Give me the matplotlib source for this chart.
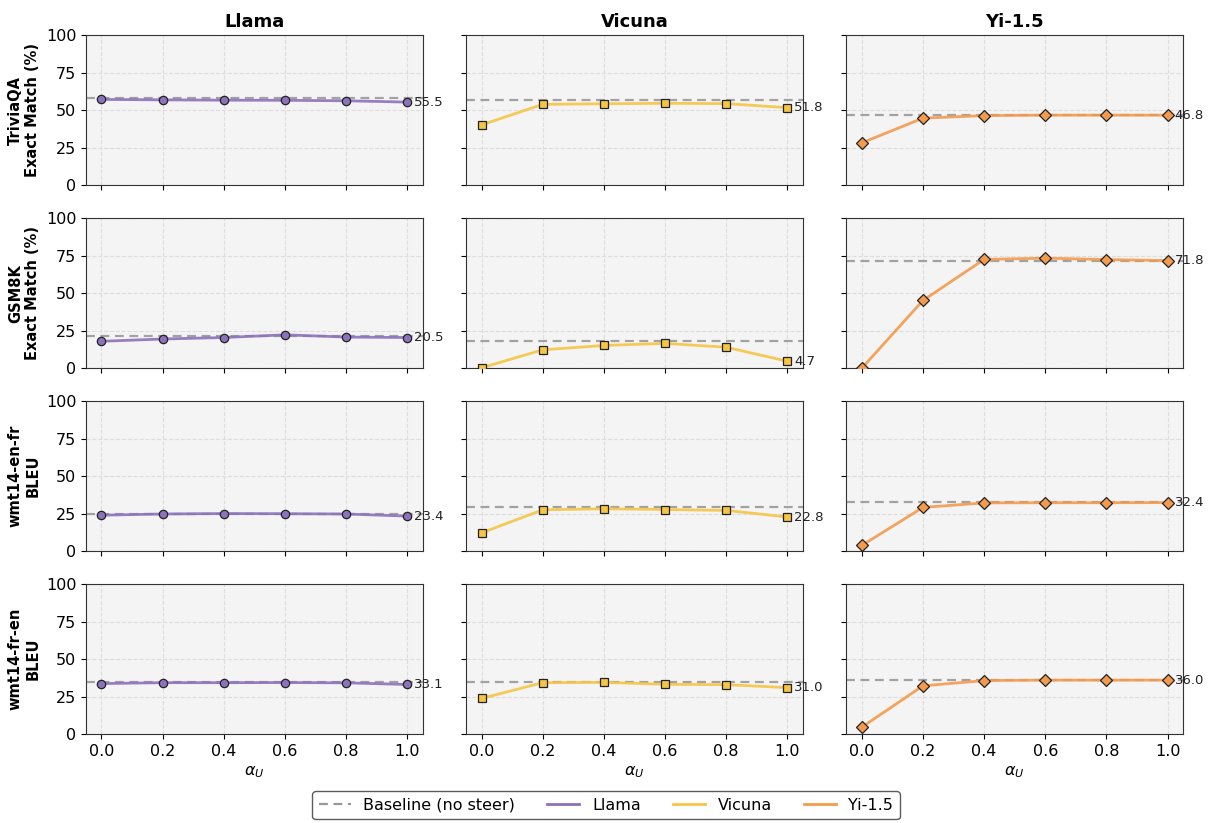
"""Steering strength sweep: task scores vs alpha_U for three models."""

import matplotlib.pyplot as plt
from matplotlib.lines import Line2D

alphas = [0.0, 0.2, 0.4, 0.6, 0.8, 1.0]

models = ["Llama", "Vicuna", "Yi-1.5"]
model_colors = {"Llama": "#8c72bb", "Vicuna": "#f5c545", "Yi-1.5": "#f39a4c"}
model_markers = {"Llama": "o", "Vicuna": "s", "Yi-1.5": "D"}

tasks = ["TriviaQA", "GSM8K", "wmt14-en-fr", "wmt14-fr-en"]
task_ylabels = [
    "TriviaQA\nExact Match (%)",
    "GSM8K\nExact Match (%)",
    "wmt14-en-fr\nBLEU",
    "wmt14-fr-en\nBLEU",
]

# scores per task, per model (one value per alpha)
triviaqa = {
    "Llama": [57.3, 57.0, 56.8, 56.7, 56.4, 55.5],
    "Vicuna": [40.3, 54.0, 54.4, 54.7, 54.5, 51.8],
    "Yi-1.5": [28.3, 44.8, 46.5, 46.8, 46.8, 46.8],
}
gsm8k = {
    "Llama": [18.0, 19.5, 20.5, 22.3, 20.8, 20.5],
    "Vicuna": [0.3, 12.3, 15.2, 16.6, 14.0, 4.7],
    "Yi-1.5": [0.0, 45.2, 72.6, 73.4, 72.5, 71.8],
}
wmt_en_fr = {
    "Llama": [24.0, 24.8, 25.1, 25.0, 24.8, 23.4],
    "Vicuna": [12.2, 27.6, 28.3, 27.8, 27.2, 22.8],
    "Yi-1.5": [3.8, 29.2, 32.2, 32.3, 32.3, 32.4],
}
wmt_fr_en = {
    "Llama": [33.7, 34.3, 34.3, 34.4, 34.2, 33.1],
    "Vicuna": [23.8, 34.3, 34.5, 33.2, 33.0, 31.0],
    "Yi-1.5": [4.6, 32.2, 35.7, 36.0, 36.0, 36.0],
}
scores = [triviaqa, gsm8k, wmt_en_fr, wmt_fr_en]

# unsteered baseline per task, per model
baselines = [
    {"Llama": 58.5, "Vicuna": 56.7, "Yi-1.5": 47.0},
    {"Llama": 21.2, "Vicuna": 18.0, "Yi-1.5": 71.8},
    {"Llama": 24.8, "Vicuna": 29.2, "Yi-1.5": 32.8},
    {"Llama": 34.6, "Vicuna": 34.8, "Yi-1.5": 36.2},
]

fig, axes = plt.subplots(4, 3, figsize=(12.12, 8.23), dpi=100, sharex=True, sharey=True)
fig.subplots_adjust(left=0.071, right=0.976, top=0.957, bottom=0.108, hspace=0.22, wspace=0.13)

for i, task in enumerate(tasks):
    for j, model in enumerate(models):
        ax = axes[i, j]
        ax.set_facecolor("#f4f4f4")
        ax.grid(True, linestyle="--", color="#dddddd", linewidth=0.8)
        ax.set_axisbelow(True)
        for s in ax.spines.values():
            s.set_color("#333333")

        ax.axhline(baselines[i][model], color="#999999", linestyle=(0, (4, 2.5)),
                   linewidth=1.6, alpha=0.9, zorder=2)
        vals = scores[i][model]
        ax.plot(alphas, vals, color=model_colors[model], linewidth=2, alpha=0.9, zorder=3)
        ax.plot(alphas, vals, linestyle="none", marker=model_markers[model],
                markersize=6, markerfacecolor=model_colors[model],
                markeredgecolor="#222222", markeredgewidth=0.9, zorder=4)
        ax.annotate(f"{vals[-1]:.1f}", (alphas[-1], vals[-1]), xytext=(5, 0),
                    textcoords="offset points", ha="left", va="center", fontsize=9.5, color="#222222")

        ax.set_ylim(0, 100)
        ax.set_xlim(-0.05, 1.05)
        ax.set_yticks([0, 25, 50, 75, 100])
        ax.set_xticks(alphas)
        ax.tick_params(labelsize=11.5)

        if i == 0:
            ax.set_title(model, fontsize=13, fontweight="bold")
        if j == 0:
            ax.set_ylabel(task_ylabels[i], fontsize=10.5, fontweight="bold")
        if i == len(tasks) - 1:
            ax.set_xlabel(r"$\alpha_U$", fontsize=11.5)

handles = [Line2D([0], [0], color="#999999", linestyle=(0, (4, 2.5)), linewidth=1.6, label="Baseline (no steer)")]
for model in models:
    handles.append(Line2D([0], [0], color=model_colors[model], linewidth=2, label=model))
fig.legend(handles=handles, loc="lower center", ncol=4, fontsize=11.5, frameon=True,
           edgecolor="#333333", bbox_to_anchor=(0.5, -0.005), columnspacing=2.0)

fig.savefig("out.png", dpi=100)
plt.close(fig)
